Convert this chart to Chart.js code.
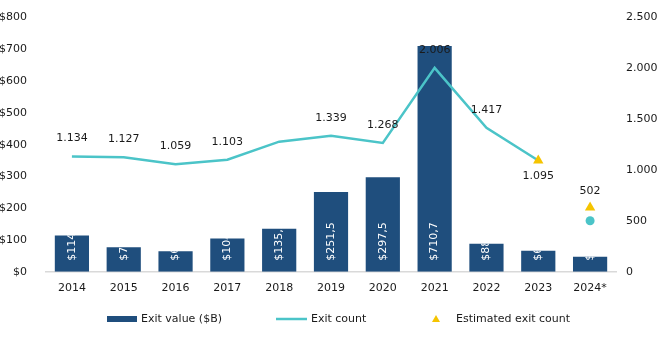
<!DOCTYPE html>
<html>
<head>
<meta charset="utf-8">
<script src="https://cdn.jsdelivr.net/npm/chart.js@4/dist/chart.umd.min.js"></script>
<style>
  html, body { margin: 0; padding: 0; background: #fff; }
  #wrap { width: 662px; height: 338px; }
</style>
</head>
<body>
<div id="wrap"><canvas id="myChart" width="662" height="338"></canvas></div>
<script>
const years = ['2014', '2015', '2016', '2017', '2018', '2019', '2020', '2021', '2022', '2023', '2024*'];
const exitValue = [114.4, 77.2, 64.3, 104.6, 135.5, 251.5, 297.5, 710.7, 88.4, 66.3, 47.6];
const exitCount = [1134, 1127, 1059, 1103, 1280, 1339, 1268, 2006, 1417, 1095, null];
const exitCountYtd = [null, null, null, null, null, null, null, null, null, null, 502];
const estimatedCount = [null, null, null, null, null, null, null, null, null, 1095, 633];
// where the count label sits: 'up', 'down' or null (hidden)
const countLabelSide = ['up', 'up', 'up', 'up', null, 'up', 'up', 'up', 'up', 'down', null];

const navy = '#1f4e7d';
const teal = '#4bc4c8';
const gold = '#f5c400';
const fontFamily = '"DejaVu Sans", sans-serif';

const fmtCount = v => String(v).replace(/\B(?=(\d{3})+(?!\d))/g, '.');
const fmtValue = v => '$' + v.toFixed(1).replace('.', ',');

const labelsPlugin = {
    id: 'labels',
    afterDatasetsDraw(chart) {
        const ctx = chart.ctx;
        ctx.save();
        ctx.font = '11px ' + fontFamily;

        // white values inside the bars, clipped by the bar
        const barMeta = chart.getDatasetMeta(0);
        barMeta.data.forEach((bar, i) => {
            ctx.save();
            ctx.beginPath();
            ctx.rect(bar.x - bar.width / 2, bar.y, bar.width, bar.base - bar.y);
            ctx.clip();
            ctx.translate(bar.x, bar.base - 11);
            ctx.rotate(-Math.PI / 2);
            ctx.fillStyle = '#fff';
            ctx.textAlign = 'left';
            ctx.textBaseline = 'middle';
            ctx.fillText(fmtValue(exitValue[i]), 0, 0);
            ctx.restore();
        });

        ctx.fillStyle = '#1a1a1a';
        ctx.textAlign = 'center';
        ctx.textBaseline = 'middle';
        const lineMeta = chart.getDatasetMeta(1);
        lineMeta.data.forEach((pt, i) => {
            const side = countLabelSide[i];
            if (!side || exitCount[i] == null) return;
            ctx.fillText(fmtCount(exitCount[i]), pt.x, pt.y + (side === 'up' ? -18 : 16));
        });

        // ytd label above the estimate marker
        const estMeta = chart.getDatasetMeta(3);
        exitCountYtd.forEach((v, i) => {
            if (v == null) return;
            const pt = estMeta.data[i];
            ctx.fillText(fmtCount(v), pt.x, pt.y - 16);
        });
        ctx.restore();
    }
};

const legendPlugin = {
    id: 'customLegend',
    afterDraw(chart) {
        const ctx = chart.ctx;
        const y = chart.height - 19;
        ctx.save();
        ctx.font = '11px ' + fontFamily;
        ctx.fillStyle = '#1a1a1a';
        ctx.textBaseline = 'middle';
        ctx.textAlign = 'left';

        ctx.fillStyle = navy;
        ctx.fillRect(107, y - 3, 30, 6);
        ctx.fillStyle = '#1a1a1a';
        ctx.fillText('Exit value ($B)', 141, y);

        ctx.strokeStyle = teal;
        ctx.lineWidth = 2.5;
        ctx.beginPath();
        ctx.moveTo(276, y);
        ctx.lineTo(307, y);
        ctx.stroke();
        ctx.fillText('Exit count', 311, y);

        ctx.fillStyle = gold;
        ctx.beginPath();
        ctx.moveTo(436, y - 4);
        ctx.lineTo(440, y + 3);
        ctx.lineTo(432, y + 3);
        ctx.closePath();
        ctx.fill();
        ctx.fillStyle = '#1a1a1a';
        ctx.fillText('Estimated exit count', 456, y);
        ctx.restore();
    }
};

new Chart(document.getElementById('myChart').getContext('2d'), {
    data: {
        labels: years,
        datasets: [{
            type: 'bar',
            label: 'Exit value ($B)',
            data: exitValue,
            backgroundColor: navy,
            yAxisID: 'y',
            barPercentage: 0.66,
            categoryPercentage: 1,
            order: 3
        }, {
            type: 'line',
            label: 'Exit count',
            data: exitCount,
            borderColor: teal,
            borderWidth: 2.5,
            pointRadius: 0,
            tension: 0,
            yAxisID: 'y1',
            order: 2
        }, {
            type: 'line',
            label: 'Exit count YTD',
            data: exitCountYtd,
            showLine: false,
            pointRadius: 4.5,
            pointBackgroundColor: teal,
            pointBorderWidth: 0,
            yAxisID: 'y1',
            order: 1
        }, {
            type: 'line',
            label: 'Estimated exit count',
            data: estimatedCount,
            showLine: false,
            pointStyle: 'triangle',
            pointRadius: 6,
            pointBackgroundColor: gold,
            pointBorderWidth: 0,
            yAxisID: 'y1',
            order: 0
        }]
    },
    options: {
        responsive: false,
        animation: false,
        layout: { padding: { top: 15, left: 0, right: 0, bottom: 41 } },
        plugins: {
            legend: { display: false },
            tooltip: { enabled: false }
        },
        scales: {
            x: {
                grid: { display: false },
                border: { color: '#d9d9d9', width: 1.5 },
                ticks: { color: '#1a1a1a', font: { family: fontFamily, size: 11 }, padding: 2 }
            },
            y: {
                position: 'left',
                min: 0,
                max: 800,
                grid: { display: false },
                border: { display: false },
                afterFit: s => { s.width = 46; },
                ticks: {
                    stepSize: 100,
                    color: '#1a1a1a',
                    font: { family: fontFamily, size: 11 },
                    padding: 11,
                    callback: v => '$' + v
                }
            },
            y1: {
                position: 'right',
                min: 0,
                max: 2500,
                grid: { display: false },
                border: { display: false },
                afterFit: s => { s.width = 46; },
                ticks: {
                    stepSize: 500,
                    color: '#1a1a1a',
                    font: { family: fontFamily, size: 11 },
                    padding: 2,
                    callback: v => fmtCount(v)
                }
            }
        }
    },
    plugins: [labelsPlugin, legendPlugin]
});
</script>
</body>
</html>
